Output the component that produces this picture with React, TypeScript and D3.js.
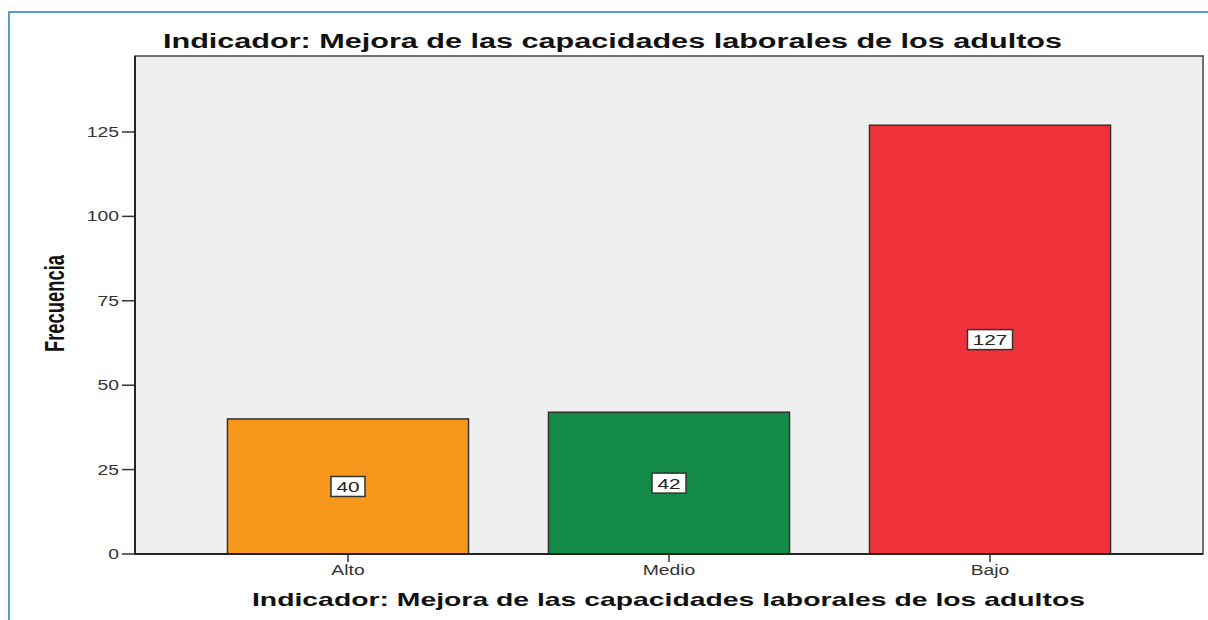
import React from "react";
import * as d3 from "d3";

const categories = ["Alto", "Medio", "Bajo"];
const values = [40, 42, 127];
const colors = ["#F7981D", "#118B47", "#EF3239"];
const yTicks = [0, 25, 50, 75, 100, 125];
const title = "Indicador: Mejora de las capacidades laborales de los adultos";
const yTitle = "Frecuencia";

const SX = 1.38;

export default function App() {
  const W = 1208, H = 620;
  const left = 135, right = 1203, top = 56, bottom = 554;
  const x = d3.scaleBand().domain(categories).range([left, right]).paddingInner(0.249).paddingOuter(0.288);
  const y = d3.scaleLinear().domain([0, 147.5]).range([bottom, top]);
  const bw = x.bandwidth();
  const font = "Liberation Sans, Arial, sans-serif";
  return (
    <svg width={W} height={H} style={{ position: "absolute", left: 0, top: 0, background: "#fff" }}>
      <line x1={8} x2={1208} y1={12} y2={12} stroke="#5B9BD5" strokeWidth={2} />
      <line x1={9} x2={9} y1={12} y2={620} stroke="#5B9BD5" strokeWidth={2} />
      <text x={163} y={48} textLength={899} lengthAdjust="spacingAndGlyphs" fontFamily={font} fontWeight="bold" fontSize={20} fill="#111">{title}</text>
      <rect x={left} y={top} width={right - left} height={bottom - top} fill="#EFEFEF" stroke="#444" strokeWidth={1.5} />
      {categories.map((c, i) => {
        const x0 = x(c)!;
        const y0 = y(values[i]);
        const cx = x0 + bw / 2;
        const cy = y(values[i] / 2);
        const label = String(values[i]);
        const bwid = label.length * 11 + 12;
        return (
          <g key={c}>
            <rect x={x0} y={y0} width={bw} height={bottom - y0} fill={colors[i]} stroke="#333" strokeWidth={1.5} />
            <rect x={cx - bwid / 2} y={cy - 10} width={bwid} height={20} fill="#fff" stroke="#333" strokeWidth={1.5} />
            <text transform={`translate(${cx},${cy + 5.5}) scale(${SX},1)`} textAnchor="middle" fontFamily={font} fontSize={15} fill="#222">{label}</text>
            <line x1={cx} x2={cx} y1={bottom} y2={bottom + 8} stroke="#333" strokeWidth={1.5} />
            <text transform={`translate(${cx},${bottom + 21}) scale(${SX},1)`} textAnchor="middle" fontFamily={font} fontSize={14} fill="#333">{c}</text>
          </g>
        );
      })}
      {yTicks.map((t) => (
        <g key={t}>
          <line x1={left - 13} x2={left} y1={y(t)} y2={y(t)} stroke="#333" strokeWidth={1.5} />
          <text transform={`translate(${left - 16},${y(t) + 5}) scale(${SX},1)`} textAnchor="end" fontFamily={font} fontSize={14} fill="#333">{t}</text>
        </g>
      ))}
      <line x1={left} x2={left} y1={top} y2={bottom} stroke="#222" strokeWidth={2} />
      <line x1={left} x2={right} y1={bottom} y2={bottom} stroke="#222" strokeWidth={2} />
      <text x={252} y={606} textLength={833} lengthAdjust="spacingAndGlyphs" fontFamily={font} fontWeight="bold" fontSize={19} fill="#111">{title}</text>
      <text transform={`translate(64,352) rotate(-90)`} textLength={97} lengthAdjust="spacingAndGlyphs" fontFamily={font} fontWeight="bold" fontSize={27} fill="#111">{yTitle}</text>
    </svg>
  );
}
